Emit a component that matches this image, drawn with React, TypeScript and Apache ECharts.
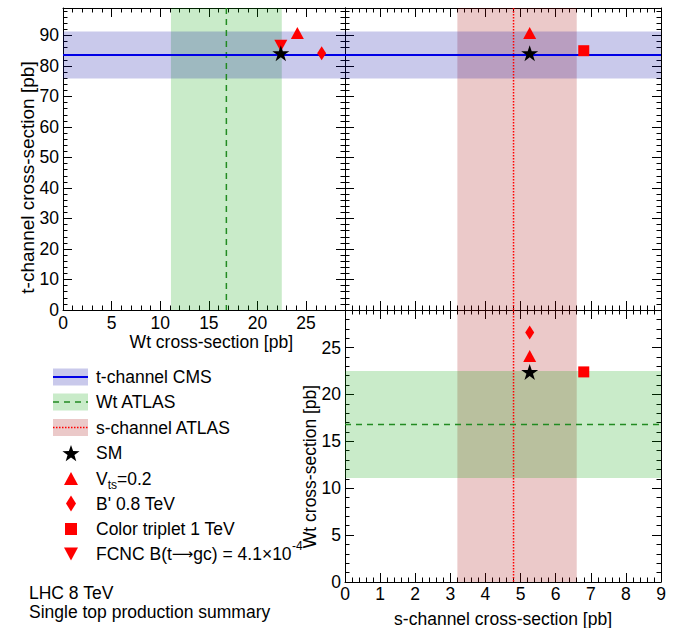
import React, { useEffect, useRef } from "react";
import * as echarts from "echarts";

// ---------- data ----------
const wtRange = [0, 29];
const tRange = [0, 99];
const sRange = [0, 9];
const wtTickLabels = [0, 5, 10, 15, 20, 25];
const tTickLabels = [0, 10, 20, 30, 40, 50, 60, 70, 80, 90];
const sTickLabels = [0, 1, 2, 3, 4, 5, 6, 7, 8, 9];

const bandNames = ["t-channel CMS", "Wt ATLAS", "s-channel ATLAS"];
const bandCentral = [83.6, 16.8, 4.8];
const bandLow = [75.9, 11.1, 3.2];
const bandHigh = [91.3, 22.5, 6.6];

const modelNames = ["SM", "Vts=0.2", "B' 0.8 TeV", "Color triplet 1 TeV", "FCNC B(t→gc) = 4.1×10-4"];
const modelWt = [22.4, 24.1, 26.6, 22.4, 22.4];
const modelT = [84.2, 90.8, 84.2, 85.0, 86.6];
const modelS = [5.26, 5.26, 5.26, 6.8, 5.26];
// which panels each model is drawn in: [Wt-t, s-t, s-Wt]
const modelPanels = [
  [true, true, true],
  [true, true, true],
  [true, false, true],
  [false, true, true],
  [true, false, false],
];

const footerLines = ["LHC 8 TeV", "Single top production summary"];

// ---------- styles ----------
const FONT = '"Liberation Sans", Arial, Helvetica, sans-serif';
const FS = 17.5;
const STAR = "path://M50,0L61.2,34.5L97.6,34.5L68.2,55.9L79.4,90.5L50,69.1L20.6,90.5L31.8,55.9L2.4,34.5L38.8,34.5Z";
const bandFill = ["rgba(0,0,160,0.21)", "rgba(0,160,0,0.21)", "rgba(160,0,0,0.21)"];
const bandStroke = ["#0000e6", "#228b22", "#ff0000"];
const bandDash: any[] = [null, [6, 5], [1.5, 1.5]];
const bandWidth = [2, 1.5, 1.5];
const modelSymbol: any[] = [STAR, "triangle", "diamond", "rect", "triangle"];
const modelSize: any[] = [[17, 16], [13, 12], [9, 14], [11, 11], [13, 12]];
const modelRotate = [0, 0, 0, 0, 180];
const modelColor = ["#000", "#ff0000", "#ff0000", "#ff0000", "#ff0000"];

function measure(text: string, size: number, family = FONT) {
  const c = document.createElement("canvas").getContext("2d")!;
  c.font = `${size}px ${family}`;
  return c.measureText(text).width;
}

function axis(
  grid: number,
  position: string,
  range: number[],
  interval: number,
  labels: number[] | null,
  margin: number
) {
  return {
    type: "value",
    gridIndex: grid,
    position,
    min: range[0],
    max: range[1],
    interval,
    axisLine: { show: true, onZero: false, lineStyle: { color: "#000", width: 1 } },
    axisTick: { show: true, inside: true, length: 9, lineStyle: { color: "#000", width: 1 } },
    minorTick: { show: true, splitNumber: 5, length: 4.5, lineStyle: { color: "#000", width: 1 } },
    splitLine: { show: false },
    minorSplitLine: { show: false },
    axisLabel: {
      show: !!labels,
      margin,
      fontSize: FS,
      lineHeight: 16,
      fontFamily: FONT,
      color: "#000",
      showMinLabel: true,
      showMaxLabel: true,
      hideOverlap: false,
      formatter: (v: number) => (labels && labels.some((l) => Math.abs(l - v) < 1e-6) ? String(v) : ""),
    },
  };
}

function bandSeries(xi: number, yi: number, b: number, orient: "v" | "h", kind: "fill" | "line") {
  return {
    type: "custom",
    xAxisIndex: xi,
    yAxisIndex: yi,
    silent: true,
    clip: false,
    z: kind === "fill" ? 1 : 2,
    data: [[bandLow[b], bandHigh[b], bandCentral[b]]],
    renderItem: (params: any, api: any) => {
      const cs = params.coordSys;
      const lo = api.value(0);
      const hi = api.value(1);
      const c = api.value(2);
      if (orient === "v") {
        const x0 = api.coord([lo, 0])[0];
        const x1 = api.coord([hi, 0])[0];
        const xc = api.coord([c, 0])[0];
        if (kind === "fill")
          return { type: "rect", shape: { x: x0, y: cs.y, width: x1 - x0, height: cs.height }, style: { fill: bandFill[b] } };
        return {
          type: "line",
          shape: { x1: xc, y1: cs.y, x2: xc, y2: cs.y + cs.height },
          style: { stroke: bandStroke[b], lineWidth: bandWidth[b], lineDash: bandDash[b] },
        };
      }
      const y0 = api.coord([0, lo])[1];
      const y1 = api.coord([0, hi])[1];
      const yc = api.coord([0, c])[1];
      if (kind === "fill")
        return { type: "rect", shape: { x: cs.x, y: y1, width: cs.width, height: y0 - y1 }, style: { fill: bandFill[b] } };
      return {
        type: "line",
        shape: { x1: cs.x, y1: yc, x2: cs.x + cs.width, y2: yc },
        style: { stroke: bandStroke[b], lineWidth: bandWidth[b], lineDash: bandDash[b] },
      };
    },
  };
}

function starPoints(cx: number, cy: number, R: number) {
  const pts: number[][] = [];
  const r = R * 0.4;
  for (let i = 0; i < 10; i++) {
    const a = -Math.PI / 2 + (i * Math.PI) / 5;
    const rr = i % 2 === 0 ? R : r;
    pts.push([cx + rr * Math.cos(a), cy + rr * Math.sin(a)]);
  }
  return pts;
}

export default function App() {
  const ref = useRef<HTMLDivElement>(null);
  useEffect(() => {
    document.body.style.margin = "0";
    const chart = echarts.init(ref.current!, null, { renderer: "svg" });

    const grids = [
      { left: 63, top: 8, width: 282, height: 302 },
      { left: 345, top: 8, width: 316, height: 302 },
      { left: 345, top: 310, width: 316, height: 272 },
    ].map((g) => ({ ...g, containLabel: false, outerBoundsMode: "none", show: false }));

    const xAxes = [
      axis(0, "bottom", wtRange, 5, wtTickLabels, 5),
      axis(0, "top", wtRange, 5, null, 5),
      axis(1, "bottom", sRange, 1, null, 5),
      axis(1, "top", sRange, 1, null, 5),
      axis(2, "bottom", sRange, 1, sTickLabels, 4),
      axis(2, "top", sRange, 1, null, 5),
    ];
    const yAxes = [
      axis(0, "left", tRange, 10, tTickLabels, 4),
      axis(0, "right", tRange, 10, null, 4),
      axis(1, "left", tRange, 10, null, 4),
      axis(1, "right", tRange, 10, null, 4),
      axis(2, "left", wtRange, 5, wtTickLabels, 4),
      axis(2, "right", wtRange, 5, null, 4),
    ];

    const series: any[] = [];
    // panel 0: x = Wt (vertical band 1), y = t (horizontal band 0)
    series.push(bandSeries(0, 0, 1, "v", "fill"), bandSeries(0, 0, 0, "h", "fill"));
    series.push(bandSeries(0, 0, 1, "v", "line"), bandSeries(0, 0, 0, "h", "line"));
    // panel 1: x = s (vertical band 2), y = t (horizontal band 0)
    series.push(bandSeries(2, 2, 2, "v", "fill"), bandSeries(2, 2, 0, "h", "fill"));
    series.push(bandSeries(2, 2, 2, "v", "line"), bandSeries(2, 2, 0, "h", "line"));
    // panel 2: x = s (vertical band 2), y = Wt (horizontal band 1)
    series.push(bandSeries(4, 4, 2, "v", "fill"), bandSeries(4, 4, 1, "h", "fill"));
    series.push(bandSeries(4, 4, 2, "v", "line"), bandSeries(4, 4, 1, "h", "line"));

    const order = [1, 2, 3, 4, 0];
    const panelAxes = [
      [0, 0],
      [2, 2],
      [4, 4],
    ];
    order.forEach((m) => {
      for (let p = 0; p < 3; p++) {
        if (!modelPanels[m][p]) continue;
        const pt = p === 0 ? [modelWt[m], modelT[m]] : p === 1 ? [modelS[m], modelT[m]] : [modelS[m], modelWt[m]];
        series.push({
          type: "scatter",
          name: modelNames[m],
          xAxisIndex: panelAxes[p][0],
          yAxisIndex: panelAxes[p][1],
          data: [pt],
          symbol: modelSymbol[m],
          symbolSize: modelSize[m],
          symbolRotate: modelRotate[m],
          itemStyle: { color: modelColor[m], opacity: 1 },
          z: m === 0 ? 6 : 5,
          silent: true,
        });
      }
    });

    // ---------- legend & text via graphic ----------
    const g: any[] = [];
    const text = (t: string, x: number, y: number, size = FS, family = FONT) => ({
      type: "text",
      x,
      y,
      silent: true,
      style: { text: t, fontSize: size, fontFamily: family, fill: "#000", align: "left", verticalAlign: "middle" },
    });
    const rowY = [377, 402, 427.5, 453, 479, 503.5, 529, 553.5];
    const boxX = 53;
    const boxW = 35;
    const txtX = 96;
    for (let b = 0; b < 3; b++) {
      const y = rowY[b];
      g.push({ type: "rect", silent: true, shape: { x: boxX, y: y - 8.5, width: boxW, height: 17 }, style: { fill: bandFill[b] } });
      g.push({
        type: "line",
        silent: true,
        shape: { x1: boxX, y1: y, x2: boxX + boxW, y2: y },
        style: { stroke: bandStroke[b], lineWidth: bandWidth[b], lineDash: bandDash[b] },
      });
      g.push(text(bandNames[b], txtX, y));
    }
    const mx = 71;
    // SM star
    g.push({ type: "polygon", silent: true, shape: { points: starPoints(mx, rowY[3] + 1, 9) }, style: { fill: "#000" } });
    g.push(text(modelNames[0], txtX, rowY[3]));
    // Vts triangle
    {
      const y = rowY[4];
      g.push({ type: "polygon", silent: true, shape: { points: [[mx, y - 7], [mx + 7, y + 6], [mx - 7, y + 6]] }, style: { fill: "#ff0000" } });
      const wV = measure("V", FS);
      g.push(text("V", txtX, y));
      g.push(text("ts", txtX + wV, y + 6, 12));
      g.push(text("=0.2", txtX + wV + measure("ts", 12), y));
    }
    // B' diamond
    {
      const y = rowY[5];
      g.push({ type: "polygon", silent: true, shape: { points: [[mx, y - 8], [mx + 5, y], [mx, y + 8], [mx - 5, y]] }, style: { fill: "#ff0000" } });
      g.push(text(modelNames[2], txtX, y));
    }
    // Color triplet square
    {
      const y = rowY[6];
      g.push({ type: "rect", silent: true, shape: { x: mx - 6, y: y - 6, width: 12, height: 12 }, style: { fill: "#ff0000" } });
      g.push(text(modelNames[3], txtX, y));
    }
    // FCNC down triangle
    {
      const y = rowY[7];
      g.push({ type: "polygon", silent: true, shape: { points: [[mx - 7, y - 6], [mx + 7, y - 6], [mx, y + 7]] }, style: { fill: "#ff0000" } });
      const p1 = "FCNC B(t";
      const arrowFont = '"DejaVu Sans", sans-serif';
      const arrow = "⟶";
      const p2 = "gc) = 4.1×10";
      let x = txtX;
      g.push(text(p1, x, y));
      x += measure(p1, FS);
      g.push(text(arrow, x, y, 15, arrowFont));
      x += measure(arrow, 15, arrowFont);
      g.push(text(p2, x, y));
      x += measure(p2, FS);
      g.push(text("-4", x + 0.5, y - 8, 12));
    }
    // footer
    g.push(text(footerLines[0], 29, 592.5));
    g.push(text(footerLines[1], 29, 611.5));
    // axis titles
    g.push({
      type: "text",
      silent: true,
      x: 27.5,
      y: 177.5,
      rotation: Math.PI / 2,
      style: { text: "t-channel cross-section [pb]", fontSize: 19, fontFamily: FONT, fill: "#000", align: "center", verticalAlign: "middle" },
    });
    g.push({
      type: "text",
      silent: true,
      x: 293,
      y: 342,
      style: { text: "Wt cross-section [pb]", fontSize: FS, fontFamily: FONT, fill: "#000", align: "right", verticalAlign: "middle" },
    });
    g.push({
      type: "text",
      silent: true,
      x: 310,
      y: 466.5,
      rotation: Math.PI / 2,
      style: { text: "Wt cross-section [pb]", fontSize: FS, fontFamily: FONT, fill: "#000", align: "center", verticalAlign: "middle" },
    });
    g.push({
      type: "text",
      silent: true,
      x: 612,
      y: 619,
      style: { text: "s-channel cross-section [pb]", fontSize: FS, fontFamily: FONT, fill: "#000", align: "right", verticalAlign: "middle" },
    });

    chart.setOption({
      animation: false,
      backgroundColor: "#fff",
      grid: grids,
      xAxis: xAxes,
      yAxis: yAxes,
      series,
      graphic: { elements: g },
    });
    return () => chart.dispose();
  }, []);
  return <div ref={ref} style={{ width: 678, height: 628 }} />;
}
